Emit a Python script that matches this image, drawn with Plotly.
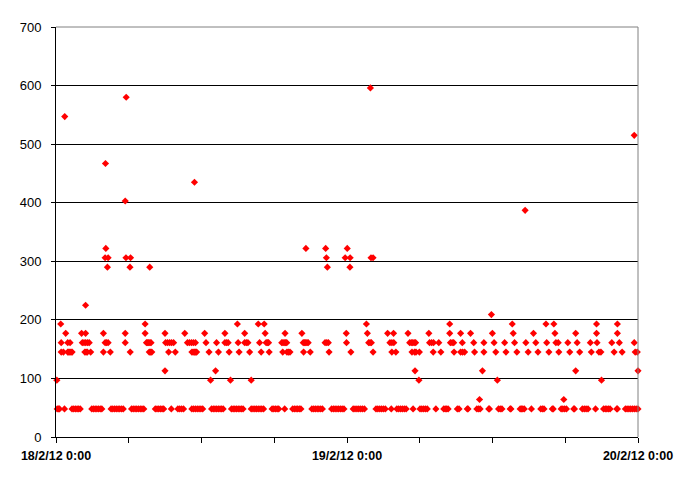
import pandas as pd
import plotly.graph_objects as go

START = pd.Timestamp("2012-02-18 00:00")

# Hours elapsed since 18/2/12 0:00, grouped by reading level
t_48 = [0.1, 0.2, 0.29, 0.7,
        1.32, 1.46, 1.6, 1.74, 1.87, 2.0,
        2.95, 3.09, 3.23, 3.37, 3.51, 3.65, 3.78,
        4.54, 4.68, 4.83, 4.97, 5.12, 5.26, 5.41, 5.55,
        6.23, 6.37, 6.52, 6.66, 6.8, 6.95, 7.09, 7.24,
        8.19, 8.33, 8.47, 8.61, 8.75, 8.88, 9.51,
        10.05, 10.2, 10.36, 10.52,
        11.2, 11.35, 11.5, 11.65, 11.8, 11.95, 12.1,
        12.83, 12.97, 13.11, 13.25, 13.39, 13.53, 13.66, 13.79,
        14.47, 14.61, 14.75, 14.89, 15.03, 15.17, 15.3, 15.43,
        16.1, 16.25, 16.4, 16.54, 16.68, 16.83, 16.97, 17.12,
        17.82, 17.96, 18.1, 18.24, 18.37, 18.86,
        19.52, 19.66, 19.8, 19.93, 20.07, 20.2,
        21.1, 21.25, 21.39, 21.54, 21.68, 21.83, 21.97,
        22.73, 22.88, 23.02, 23.17, 23.31, 23.46, 23.6, 23.75,
        24.51, 24.66, 24.82, 24.97, 25.13, 25.28, 25.44,
        26.39, 26.54, 26.7, 26.85, 27.0, 27.16, 27.65,
        28.11, 28.26, 28.42, 28.57, 28.73, 28.88, 29.45,
        30.02, 30.17, 30.32, 30.47, 30.62, 31.33,
        31.98, 32.1, 32.22, 32.34,
        33.1, 33.24, 33.92, 33.98,
        34.71, 34.85, 34.98, 35.69, 35.75,
        36.5, 36.64, 36.78, 37.46, 37.52,
        38.28, 38.39, 38.5, 38.62, 39.21,
        39.98, 40.12, 40.25, 40.93, 41.01,
        41.66, 41.8, 41.95, 42.1, 42.7, 42.76,
        43.41, 43.57, 43.72, 43.88, 44.5,
        45.16, 45.3, 45.43, 45.57, 45.7, 46.25, 46.3,
        46.96, 47.1, 47.25, 47.4, 47.55, 47.7, 47.85, 48.0]

t_145 = [0.43, 0.61, 0.97, 1.06, 1.15, 1.24, 1.33, 2.38, 2.48, 2.58, 2.86,
         3.91, 4.48, 6.12, 7.69, 7.8, 7.9, 9.29, 9.84,
         11.21, 11.31, 11.42, 11.51, 11.6, 12.62, 13.4, 14.28, 15.1,
         15.97, 16.92, 17.58, 18.7, 19.05, 19.18, 19.3, 20.42, 20.97, 22.52,
         24.32, 26.15, 27.7, 28.03, 29.36, 29.58, 29.69, 29.97, 31.11, 31.74,
         32.83, 33.37, 33.53, 33.7, 34.52, 35.29, 36.27, 37.11, 38.01, 38.94,
         39.75, 40.65, 41.47, 42.37, 43.19, 44.15, 44.78, 44.94, 46.03, 46.69,
         47.77, 47.94]

t_161 = [0.43, 0.97, 1.16, 2.17, 2.31, 2.45, 2.6, 2.74, 4.05, 4.17, 4.3, 5.71,
         7.46, 7.56, 7.65, 7.75, 7.84, 9.04, 9.2, 9.37, 9.53, 9.7,
         10.84, 11.0, 11.17, 11.33, 11.5, 12.37, 13.24, 13.93, 14.07, 14.2,
         15.02, 15.56, 15.7, 15.83, 16.79, 17.33, 17.43, 17.53,
         18.62, 18.72, 18.82, 18.93, 19.03, 20.39, 20.5, 20.6, 20.7, 20.8,
         22.19, 22.33, 22.46, 23.96, 25.79, 25.9, 26.01, 27.54, 27.7, 27.86,
         29.17, 29.3, 29.42, 29.54, 29.66, 30.81, 30.98, 31.14, 31.57,
         32.53, 32.67, 32.8, 33.51, 34.45, 35.29, 36.13, 37.0, 37.82, 38.75,
         39.57, 40.47, 41.23, 41.42, 42.21, 42.98, 44.07, 44.62, 45.84,
         46.46, 47.69]

t_177 = [0.8, 2.11, 2.44, 3.91, 5.71, 7.35, 8.99, 10.62, 12.26, 13.93, 15.56,
         17.25, 18.89, 20.28, 23.94, 25.68, 27.35, 27.84, 29.03, 30.75, 32.47,
         33.37, 34.19, 35.99, 37.71, 39.38, 41.15, 42.86, 44.58, 46.3]

t_193 = [0.39, 7.35, 14.96, 16.68, 17.17, 25.6, 32.47, 37.63, 40.41, 41.06,
         44.58, 46.3]

# isolated readings
t_other = [0.07, 12.75, 14.39, 16.1, 29.93, 36.4, 44.99,
           8.99, 13.16, 29.61, 35.17, 42.86, 48.0,
           34.93, 41.88, 35.91, 2.44,
           4.24, 6.1, 7.73, 22.38, 24.24,
           4.05, 4.3, 5.77, 6.15, 22.3, 23.85, 24.26, 25.98, 26.15,
           4.11, 20.61, 22.24, 24.02,
           38.69, 5.71, 11.42, 4.08, 47.69, 0.72, 5.79, 25.93]
v_other = [97, 97, 97, 97, 97, 97, 97,
           113, 113, 113, 113, 113, 113,
           64, 64, 209, 225,
           290, 290, 290, 290, 290,
           306, 306, 306, 306, 306, 306, 306, 306, 306,
           322, 322, 322, 322,
           387, 403, 435, 467, 515, 547, 580, 596]

y_tick_vals = [0, 100, 200, 300, 400, 500, 600, 700]
x_tick_hours = [0, 6, 12, 18, 24, 30, 36, 42, 48]
x_tick_text = ["<b>18/2/12 0:00</b>", "", "", "", "<b>19/2/12 0:00</b>",
               "", "", "", "<b>20/2/12 0:00</b>"]

hours = t_48 + t_145 + t_161 + t_177 + t_193 + t_other
values = ([48] * len(t_48) + [145] * len(t_145) + [161] * len(t_161)
          + [177] * len(t_177) + [193] * len(t_193) + v_other)
times = [START + pd.Timedelta(hours=h) for h in hours]

fig = go.Figure(go.Scatter(
    x=times, y=values, mode="markers", cliponaxis=False,
    marker=dict(symbol="diamond", size=5.5, color="#FF0000", line=dict(width=0)),
    hoverinfo="x+y",
))

font = "Liberation Sans, Arial, sans-serif"
fig.update_layout(
    width=682, height=472,
    margin=dict(l=43, r=52, t=17, b=43),
    paper_bgcolor="white", plot_bgcolor="white",
    showlegend=False,
    font=dict(family=font, color="black"),
    xaxis=dict(
        range=[START, START + pd.Timedelta(hours=48)],
        tickmode="array",
        tickvals=[START + pd.Timedelta(hours=h) for h in x_tick_hours],
        ticktext=x_tick_text,
        ticks="outside", ticklen=5, tickcolor="black", tickwidth=1,
        showline=True, linecolor="black", linewidth=1,
        showgrid=False, zeroline=False,
        tickfont=dict(family=font, size=12.5, color="black"),
        tickangle=0, ticklabelstandoff=2,
    ),
    yaxis=dict(
        range=[0, 700],
        tickvals=y_tick_vals,
        ticks="outside", ticklen=4, tickcolor="black", tickwidth=1,
        showline=True, linecolor="black", linewidth=1,
        showgrid=True, gridcolor="black", gridwidth=1,
        zeroline=False, ticklabelstandoff=7,
        tickfont=dict(family=font, size=13, color="black"),
    ),
    shapes=[
        dict(type="line", xref="paper", yref="paper", x0=0, x1=1, y0=1, y1=1,
             line=dict(color="#808080", width=1), layer="above"),
        dict(type="line", xref="paper", yref="paper", x0=1, x1=1, y0=0, y1=1,
             line=dict(color="#808080", width=1), layer="above"),
    ],
)

fig.write_html("out.html")
